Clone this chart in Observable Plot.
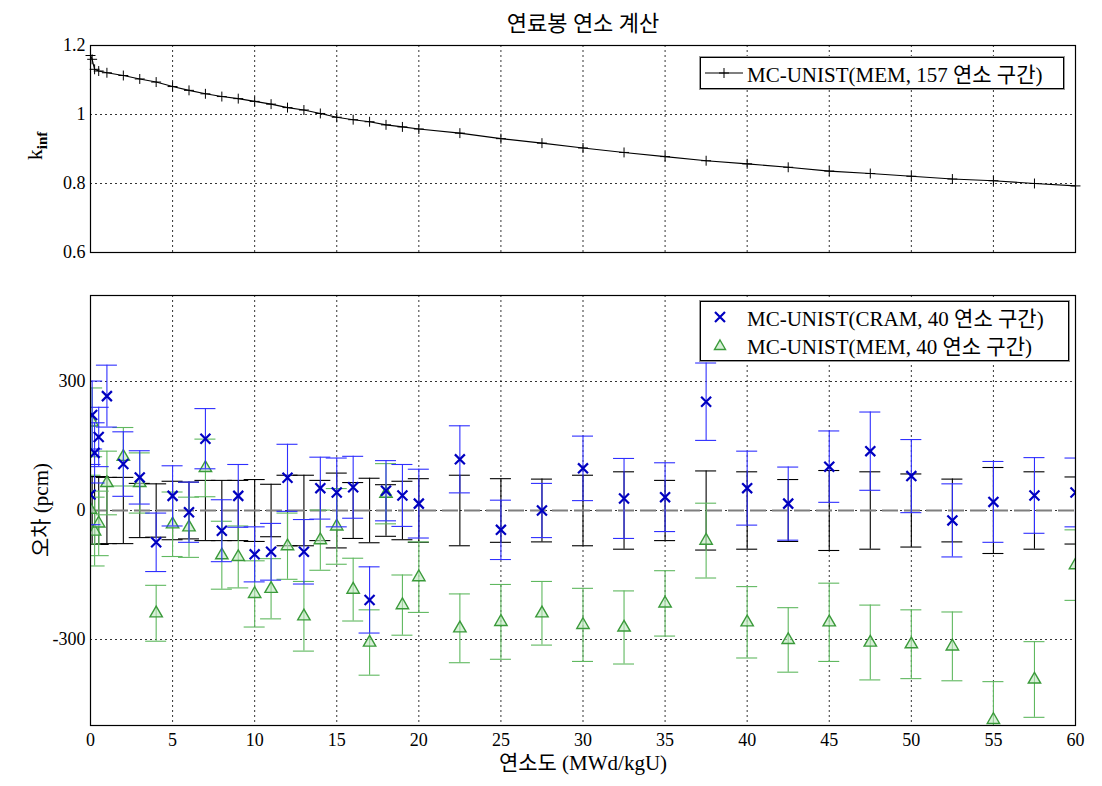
<!DOCTYPE html>
<html><head><meta charset="utf-8">
<script src="https://cdn.jsdelivr.net/npm/d3@7"></script>
<script src="https://cdn.jsdelivr.net/npm/@observablehq/plot@0.6"></script>
<style>
body{margin:0;background:#fff;}
#wrap{position:relative;width:1102px;height:786px;overflow:hidden;font-family:"Liberation Serif","Noto Sans CJK KR",serif;color:#000;}
.abs{position:absolute;}
#wrap > svg{position:absolute;left:0;}
.leg{position:absolute;background:#fff;border:1px solid #000;box-shadow:0 0 0 1px #999;font-size:21px;white-space:nowrap;}
.leg .row{display:flex;align-items:center;height:28px;}
</style></head><body><div id="wrap"></div>
<script>
// ---- data ----
const burnup = [0, 0.1, 0.25, 0.5, 1, 2, 3, 4, 5, 6, 7, 8, 9, 10, 11, 12, 13, 14, 15, 16, 17, 18, 19, 20,
  22.5, 25, 27.5, 30, 32.5, 35, 37.5, 40, 42.5, 45, 47.5, 50, 52.5, 55, 57.5, 60];
const kinf = [1.171, 1.160, 1.131, 1.126, 1.121, 1.113, 1.103, 1.094, 1.081, 1.070, 1.060, 1.052, 1.046, 1.038,
  1.030, 1.020, 1.013, 1.003, 0.992, 0.985, 0.979, 0.970, 0.964, 0.958, 0.946, 0.930, 0.917, 0.903, 0.890,
  0.878, 0.866, 0.857, 0.847, 0.836, 0.829, 0.821, 0.813, 0.808, 0.800, 0.793];
const cramErr = [37, 222, 134, 171, 266, 108, 77, -74, 34, -4, 167, -47, 34, -102, -96, 76, -96, 52, 42, 54,
  -208, 46, 35, 16, 119, -45, 0, 98, 28, 31, 253, 52, 16, 102, 138, 80, -23, 20, 35, 42];
const cramSigma = [70, 79, 70, 69, 72, 75, 62, 68, 70, 70, 70, 72, 73, 64, 66, 78, 75, 72, 80, 72, 77, 70, 72, 80,
  78, 69, 63, 75, 93, 80, 90, 86, 85, 83, 91, 85, 85, 94, 88, 80];
const memErr = [2, 205, -49, -30, 64, 125, 64, -239, -32, -39, 99, -104, -108, -194, -182, -83, -246, -69, -37,
  -184, -307, 39, -220, -155, -274, -259, -239, -266, -272, -216, -70, -260, -301, -260, -307, -311, -316, -487, -393, -127];
const memSigma = [80, 80, 80, 75, 74, 68, 70, 65, 75, 70, 67, 79, 72, 77, 70, 77, 81, 70, 88, 73, 76, 70, 70, 82,
  80, 87, 74, 85, 85, 76, 87, 83, 75, 91, 87, 80, 80, 89, 88, 82];
const refSigma = [79, 79, 79, 79, 77, 77, 63, 62, 68, 66, 70, 70, 70, 72, 61, 82, 82, 70, 87, 65, 75, 60, 68, 74,
  82, 74, 73, 82, 90, 70, 92, 90, 72, 93, 90, 85, 73, 100, 90, 78];
const xTicks = [0, 5, 10, 15, 20, 25, 30, 35, 40, 45, 50, 55, 60];
const kTicks = [0.6, 0.8, 1, 1.2];
const eTicks = [-300, 0, 300];

const topRows = burnup.map((x, i) => ({x, k: kinf[i]}));
const rows = burnup.map((x, i) => ({x, cram: cramErr[i], cs: cramSigma[i], mem: memErr[i], ms: memSigma[i], rs: refSigma[i]}));

const FONT = '"Liberation Serif","Noto Sans CJK KR",serif';
const CAP = 0.64;
const gridStyle = {stroke: "#000", strokeOpacity: 1, strokeWidth: 0.8, strokeDasharray: "2,3"};

function errorBars(val, sig, color, width) {
  return [
    Plot.ruleX(rows, {x: "x", y1: d => val(d) - sig(d), y2: d => val(d) + sig(d), stroke: color, strokeWidth: width, clip: true}),
    Plot.ruleY(rows, {x1: d => d.x - CAP, x2: d => d.x + CAP, y: d => val(d) + sig(d), stroke: color, strokeWidth: width, clip: true}),
    Plot.ruleY(rows, {x1: d => d.x - CAP, x2: d => d.x + CAP, y: d => val(d) - sig(d), stroke: color, strokeWidth: width, clip: true})
  ];
}
function fixFonts(svg) {
  svg.style.fontFamily = FONT;
  svg.style.fontSize = "18px";
  svg.querySelectorAll("text").forEach(t => {
    t.style.fontFamily = FONT;
    t.style.fontSize = "18px";
  });
}

const wrap = document.getElementById("wrap");

// ---- top panel ----
const topPlot = Plot.plot({
  width: 1102, height: 262,
  marginLeft: 90, marginRight: 27, marginTop: 45, marginBottom: 10,
  style: {background: "transparent", color: "#000"},
  x: {domain: [0, 60], axis: null},
  y: {domain: [0.6, 1.2], axis: null},
  marks: [
    Plot.gridX(xTicks, gridStyle),
    Plot.gridY(kTicks, gridStyle),
    Plot.axisY(kTicks, {tickSize: 0, tickPadding: 5, label: null, tickFormat: d => String(+d.toFixed(1))}),
    Plot.line(topRows, {x: "x", y: "k", stroke: "#000", strokeWidth: 1.1}),
    Plot.dot(topRows, {x: "x", y: "k", symbol: "plus", r: 3.3, stroke: "#000", strokeWidth: 1}),
    Plot.frame({stroke: "#000", strokeWidth: 1.2})
  ]
});
fixFonts(topPlot);
topPlot.style.top = "0px";
wrap.appendChild(topPlot);

// ---- bottom panel ----
const botPlot = Plot.plot({
  width: 1102, height: 524,
  marginLeft: 90, marginRight: 27, marginTop: 33, marginBottom: 61,
  style: {background: "transparent", color: "#000"},
  x: {domain: [0, 60], axis: null},
  y: {domain: [-500, 500], axis: null},
  marks: [
    Plot.gridX(xTicks, gridStyle),
    Plot.gridY(eTicks, gridStyle),
    Plot.axisX(xTicks, {tickSize: 0, tickPadding: 8, label: null, tickFormat: d => String(d)}),
    Plot.axisY(eTicks, {tickSize: 0, tickPadding: 5, label: null, tickFormat: d => String(d)}),
    ...errorBars(d => 0, d => d.rs, "#000", 1.1),
    Plot.ruleY([0], {stroke: "#7f7f7f", strokeWidth: 2, strokeDasharray: "16,6"}),
    ...errorBars(d => d.mem, d => d.ms, "#5fb85f", 1.1),
    Plot.dot(rows, {x: "x", y: "mem", symbol: "triangle", r: 4.6, stroke: "#3a9a3a", strokeWidth: 1.4, fill: "#bfe6bf", fillOpacity: 0.6, clip: true}),
    ...errorBars(d => d.cram, d => d.cs, "#2f2fff", 1.1),
    Plot.dot(rows, {x: "x", y: "cram", symbol: "times", r: 4.6, stroke: "#0000c0", strokeWidth: 2.2, clip: true}),
    Plot.frame({stroke: "#000", strokeWidth: 1.2})
  ]
});
fixFonts(botPlot);
botPlot.style.top = "262px";
wrap.appendChild(botPlot);

// ---- texts ----
function addText(html, css) {
  const d = document.createElement("div");
  d.className = "abs";
  d.innerHTML = html;
  Object.assign(d.style, css);
  wrap.appendChild(d);
  return d;
}
addText("연료봉 연소 계산", {left: "0px", width: "1166px", top: "5px", textAlign: "center", fontSize: "22px"});
addText("연소도 (MWd/kgU)", {left: "0px", width: "1166px", top: "746px", textAlign: "center", fontSize: "21px"});
addText('k<sub style="font-size:15px;font-weight:bold;vertical-align:-5px">inf</sub>', {left: "-6px", top: "134px", width: "80px", textAlign: "center", fontSize: "22px", transform: "rotate(-90deg)", transformOrigin: "40px 12px"});
addText("오차 (pcm)", {left: "-24px", top: "498px", width: "120px", textAlign: "center", fontSize: "21px", transform: "rotate(-90deg)", transformOrigin: "60px 12px"});

// legends
const leg1 = document.createElement("div");
leg1.className = "leg";
Object.assign(leg1.style, {left: "700px", top: "57px", width: "362px", height: "30px"});
leg1.innerHTML = '<div class="row" style="height:30px"><svg width="44" height="20" style="margin-left:2px"><line x1="2" y1="10" x2="40" y2="10" stroke="#000" stroke-width="1.1"/><line x1="21" y1="5" x2="21" y2="15" stroke="#000"/><line x1="16" y1="10" x2="26" y2="10" stroke="#000"/></svg><span>MC-UNIST(MEM, 157 연소 구간)</span></div>';
wrap.appendChild(leg1);

const leg2 = document.createElement("div");
leg2.className = "leg";
Object.assign(leg2.style, {left: "700px", top: "301px", width: "367px", height: "58px"});
leg2.innerHTML =
  '<div class="row" style="margin-top:1px"><svg width="44" height="20" style="margin-left:2px"><path d="M12,5L22,15M22,5L12,15" stroke="#0000c0" stroke-width="2.2"/></svg><span>MC-UNIST(CRAM, 40 연소 구간)</span></div>' +
  '<div class="row"><svg width="44" height="20" style="margin-left:2px"><path d="M17,5L22.5,14.5L11.5,14.5Z" stroke="#3a9a3a" stroke-width="1.4" fill="#bfe6bf" fill-opacity="0.6"/></svg><span>MC-UNIST(MEM, 40 연소 구간)</span></div>';
wrap.appendChild(leg2);
</script>
</body></html>
